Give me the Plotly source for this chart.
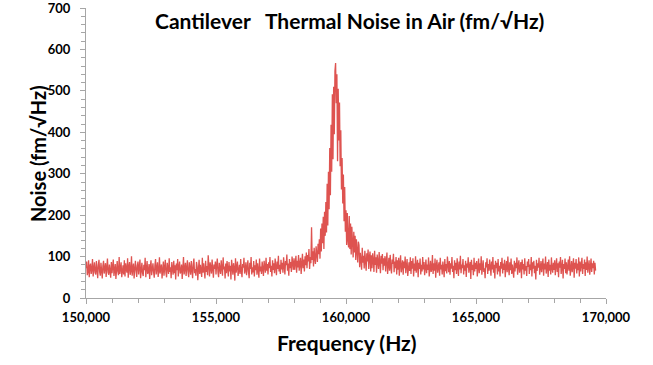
import plotly.graph_objects as go

# Sampling grid of the spectrum (Hz)
FREQ_START = 150000
FREQ_STEP = 25

# Noise amplitude (fm/√Hz), 20 samples (500 Hz) per row
noise_150k_158k = [
    72, 88, 55, 64, 91, 50, 77, 83, 58, 69, 94, 52, 71, 86, 61, 57, 89, 66, 48, 80,
    92, 63, 54, 85, 70, 47, 78, 90, 59, 67, 84, 51, 74, 95, 62, 56, 81, 69, 49, 87,
    60, 76, 93, 53, 68, 82, 46, 73, 89, 64, 55, 99, 58, 71, 86, 50, 65, 79, 57, 91,
    52, 84, 70, 61, 96, 49, 75, 87, 56, 66, 101, 54, 72, 83, 47, 63, 90, 68, 51, 78,
    88, 57, 69, 93, 48, 74, 85, 60, 53, 80, 67, 97, 50, 71, 89, 58, 64, 82, 46, 76,
    91, 55, 68, 84, 62, 49, 79, 94, 57, 70, 86, 51, 65, 98, 59, 73, 81, 47, 66, 88,
    54, 77, 92, 61, 50, 85, 69, 58, 96, 63, 74, 48, 87, 71, 56, 90, 60, 79, 45, 83,
    67, 94, 52, 75, 88, 59, 64, 81, 46, 72, 99, 57, 68, 85, 53, 78, 91, 62, 50, 86,
    73, 56, 89, 65, 48, 82, 95, 60, 70, 54, 87, 76, 43, 69, 92, 58, 80, 66, 51, 97,
    61, 84, 71, 47, 90, 63, 77, 55, 103, 68, 52, 86, 74, 59, 93, 64, 49, 81, 70, 88,
    57, 79, 95, 62, 50, 85, 72, 58, 91, 66, 54, 98, 69, 76, 47, 83, 60, 89, 73, 52,
    87, 64, 78, 45, 92, 67, 56, 84, 71, 42, 96, 61, 75, 88, 53, 69, 80, 58, 94, 66,
    50, 82, 73, 97, 59, 68, 86, 55, 77, 91, 63, 48, 85, 70, 99, 57, 74, 62, 89, 52,
    79, 67, 93, 56, 84, 71, 49, 95, 64, 76, 58, 88, 69, 53, 90, 74, 61, 97, 66, 82,
    57, 86, 72, 99, 63, 78, 52, 91, 68, 84, 60, 95, 75, 55, 88, 70, 102, 64, 80, 58,
    92, 69, 85, 61, 98, 74, 57, 89, 79, 105, 66, 83, 54, 94, 72, 87, 63, 100, 76, 68,
]
rise_158k_159_5k = [
    96, 68, 85, 102, 61, 90, 74, 104, 66, 83, 97, 58, 88, 107, 72, 93, 64, 101, 79, 110,
    72, 104, 88, 118, 70, 99, 84, 171, 92, 113, 76, 121, 96, 82, 125, 101, 87, 131, 106, 142,
    95, 168, 112, 180, 132, 196, 118, 208, 150, 232, 158, 276, 175, 305, 214, 362, 248, 418, 305, 492,
]
peak_159_5k_160k = [
    335, 510, 395, 548, 567, 470, 540, 330, 505, 380, 472, 318, 405, 262, 338, 228, 298, 185, 268, 160,
]
tail_160k_163k = [
    212, 128, 205, 140, 122, 198, 118, 180, 105, 172, 132, 98, 160, 110, 150, 92, 142, 120, 86, 136,
    128, 74, 109, 92, 68, 121, 85, 102, 71, 114, 95, 66, 108, 88, 117, 70, 99, 112, 64, 103,
    72, 108, 91, 63, 114, 80, 98, 61, 105, 87, 70, 111, 94, 60, 102, 83, 106, 67, 96, 78,
    101, 64, 90, 110, 58, 85, 97, 66, 104, 75, 59, 93, 82, 107, 62, 88, 72, 99, 57, 91,
    68, 97, 54, 84, 103, 62, 79, 91, 56, 88, 72, 100, 60, 81, 94, 53, 76, 86, 65, 98,
    58, 89, 71, 96, 52, 83, 66, 101, 61, 78, 92, 50, 85, 70, 95, 57, 80, 64, 99, 69,
]
noise_163k_169_6k = [
    87, 55, 74, 93, 60, 81, 68, 98, 52, 77, 90, 63, 71, 104, 58, 84, 66, 95, 49, 79,
    92, 61, 75, 86, 54, 97, 69, 80, 57, 88, 73, 50, 94, 65, 82, 59, 100, 70, 62, 89,
    56, 84, 71, 99, 63, 78, 48, 91, 67, 85, 58, 96, 74, 53, 88, 69, 102, 60, 81, 72,
    94, 57, 79, 66, 90, 51, 83, 73, 98, 61, 76, 87, 46, 92, 68, 80, 55, 97, 64, 85,
    70, 89, 52, 77, 95, 60, 84, 67, 101, 56, 79, 91, 63, 72, 48, 86, 74, 96, 58, 82,
    66, 93, 75, 54, 88, 69, 99, 61, 80, 47, 90, 72, 85, 57, 94, 64, 78, 52, 87, 71,
    97, 59, 83, 68, 92, 50, 76, 89, 62, 100, 73, 55, 86, 67, 95, 58, 81, 70, 49, 90,
    64, 85, 72, 98, 56, 79, 91, 61, 74, 87, 48, 93, 69, 82, 57, 96, 66, 77, 53, 88,
    75, 94, 58, 81, 67, 99, 52, 86, 71, 90, 60, 78, 45, 92, 65, 84, 73, 97, 56, 80,
    89, 62, 76, 95, 54, 83, 69, 100, 59, 74, 87, 51, 93, 66, 80, 57, 98, 72, 61, 85,
    68, 91, 55, 79, 96, 63, 84, 50, 88, 73, 99, 58, 77, 92, 47, 82, 70, 95, 60, 86,
    57, 80, 93, 66, 101, 54, 78, 89, 62, 74, 96, 49, 85, 71, 94, 59, 83, 67, 98, 52,
    88, 64, 76, 97, 58, 82, 70, 93, 53, 86, 68, 100, 61, 79, 91, 56, 75, 95, 63, 84,
    72, 90, 57, 85, 66,
]

x_tick_vals = [150000, 155000, 160000, 165000, 170000]
y_tick_vals = [0, 100, 200, 300, 400, 500, 600, 700]

title_text = "Cantilever\u00a0\u00a0 Thermal Noise in Air (fm/√Hz)"
x_title = "Frequency (Hz)"
y_title = "Noise (fm/√Hz)"

noise = noise_150k_158k + rise_158k_159_5k + peak_159_5k_160k + tail_160k_163k + noise_163k_169_6k
freq = [FREQ_START + FREQ_STEP * i for i in range(len(noise))]

FONT = "Lato"
AX_COLOR = "#a6a6a6"

fig = go.Figure()
fig.add_trace(go.Scatter(
    x=freq, y=noise, mode="lines",
    line=dict(color="#DE5350", width=1.3),
    showlegend=False, hoverinfo="skip",
))

axis_common = dict(
    showline=True, linecolor=AX_COLOR, linewidth=1,
    ticks="outside", ticklen=5, tickcolor=AX_COLOR, tickwidth=1,
    showgrid=False, zeroline=False, automargin=False,
    ticklabeloverflow="allow",
    tickfont=dict(family=FONT, size=13, color="black", weight="bold"),
)

fig.update_layout(
    template="none",
    width=653, height=365,
    margin=dict(l=86, r=47, t=8, b=67, autoexpand=False),
    plot_bgcolor="white", paper_bgcolor="white",
    xaxis=dict(
        range=[150000, 170000], tickvals=x_tick_vals, tickformat=",d",
        minor=dict(dtick=1000, tick0=150000, ticks="outside", ticklen=4, tickcolor=AX_COLOR),
        ticklabelstandoff=2,
        **axis_common,
    ),
    yaxis=dict(
        range=[0, 700], tickvals=y_tick_vals,
        minor=dict(dtick=20, tick0=0, ticks="outside", ticklen=4, tickcolor=AX_COLOR),
        ticklabelstandoff=7,
        **axis_common,
    ),
    annotations=[
        dict(text=title_text, xref="paper", yref="paper", x=0.507, y=0.9586,
             xanchor="center", yanchor="middle", showarrow=False,
             font=dict(family=FONT, size=21, color="black", weight="bold")),
        dict(text=x_title, xref="paper", yref="paper", x=0.501, y=-0.155,
             xanchor="center", yanchor="middle", showarrow=False,
             font=dict(family=FONT, size=21, color="black", weight="bold")),
        dict(text=y_title, xref="paper", yref="paper", x=-0.0933, y=0.498,
             xanchor="center", yanchor="middle", showarrow=False, textangle=-90,
             font=dict(family=FONT, size=20, color="black", weight="bold")),
    ],
)

fig.write_html("out.html", config={"displayModeBar": False},
               post_script="document.body.style.margin='0';")
